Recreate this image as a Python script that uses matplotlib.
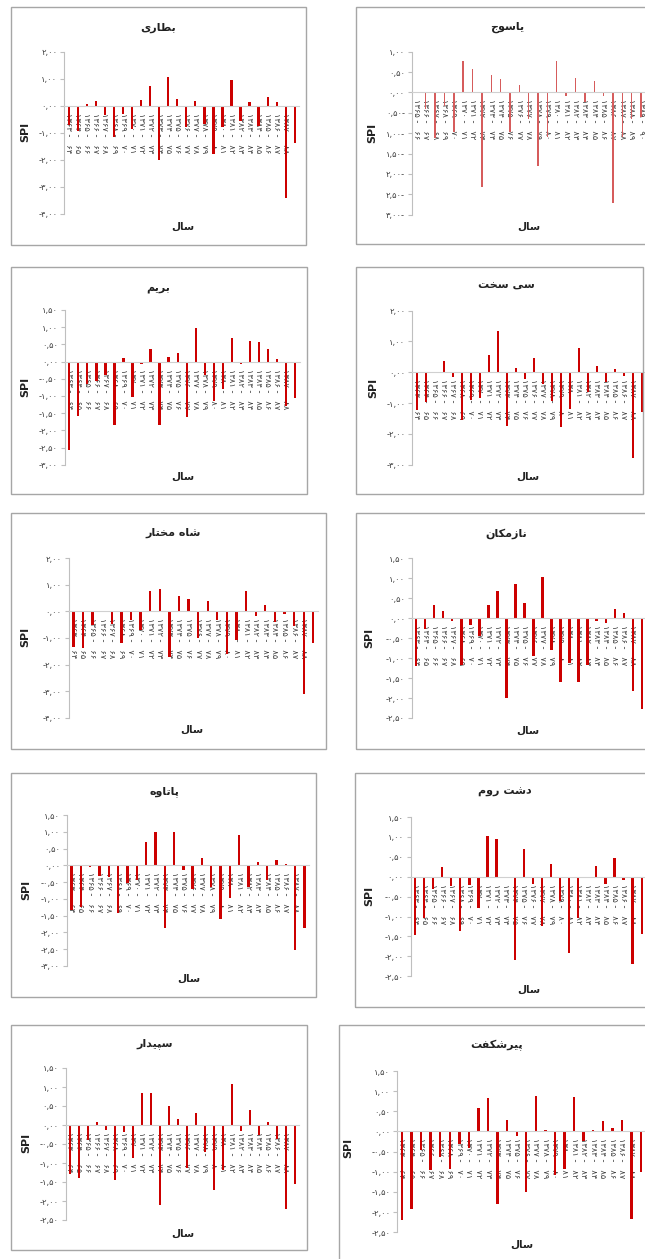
import numpy as np
import matplotlib
matplotlib.use("Agg")
import matplotlib.pyplot as plt
from matplotlib.patches import Rectangle
from matplotlib.ticker import FixedLocator, FuncFormatter

plt.rcParams['font.family'] = ['DejaVu Sans']

nan = np.nan

# ---------------- DATA ----------------
years_a = ["۱۳۶۳-۶۴", "۱۳۶۴-۶۵", "۱۳۶۵-۶۶", "۱۳۶۶-۶۷", "۱۳۶۷-۶۸", "۱۳۶۸-۶۹",
           "۱۳۶۹-۷۰", "۱۳۷۰-۷۱", "۱۳۷۱-۷۲", "۱۳۷۲-۷۳", "۱۳۷۳-۷۴", "۱۳۷۴-۷۵",
           "۱۳۷۵-۷۶", "۱۳۷۶-۷۷", "۱۳۷۷-۷۸", "۱۳۷۸-۷۹", "۱۳۷۹-۸۰", "۱۳۸۰-۸۱",
           "۱۳۸۱-۸۲", "۱۳۸۲-۸۳", "۱۳۸۳-۸۴", "۱۳۸۴-۸۵", "۱۳۸۵-۸۶", "۱۳۸۶-۸۷",
           "۱۳۸۷-۸۸", ""]
years_b = ["۱۳۶۵-۶۶", "۱۳۶۶-۶۷", "۱۳۶۷-۶۸", "۱۳۶۸-۶۹", "۱۳۶۹-۷۰", "۱۳۷۰-۷۱",
           "۱۳۷۱-۷۲", "۱۳۷۲-۷۳", "۱۳۷۳-۷۴", "۱۳۷۴-۷۵", "۱۳۷۵-۷۶", "۱۳۷۶-۷۷",
           "۱۳۷۷-۷۸", "۱۳۷۸-۷۹", "۱۳۷۹-۸۰", "۱۳۸۰-۸۱", "۱۳۸۱-۸۲", "۱۳۸۲-۸۳",
           "۱۳۸۳-۸۴", "۱۳۸۴-۸۵", "۱۳۸۵-۸۶", "۱۳۸۶-۸۷", "۱۳۸۷-۸۸", "۱۳۸۸-۸۹",
           "۱۳۸۹-۹۰"]

batari = [-0.70, -0.93, 0.07, 0.17, -0.33, -1.17, -0.30, -0.85, 0.21, 0.74, -2.00, 1.05, 0.25,
          -0.80, 0.19, -0.68, -1.79, -0.78, 0.95, -0.56, 0.14, -0.73, 0.33, 0.14, -3.40, -1.36]
yasuj = [nan, -0.41, -1.11, -0.34, -0.97, 0.77, 0.57, -2.33, 0.42, 0.34, -0.97, 0.19, -0.64,
         -1.81, -1.09, 0.77, -0.08, 0.35, -0.23, 0.27, -0.08, -2.71, -1.09, -0.66, -0.60]
barim = [-2.56, -1.59, -0.64, -0.57, -0.40, -1.85, 0.10, -1.04, -0.07, 0.37, -1.85, 0.12, 0.26,
         -1.61, 0.99, -0.38, -1.14, -0.80, 0.68, -0.07, 0.61, 0.58, 0.37, 0.08, -1.30, -1.07]
sisakht = [-1.22, -0.97, 0.01, 0.37, -0.15, -1.55, -0.89, -0.84, 0.56, 1.33, -1.73, 0.14, -0.23,
           0.45, -0.38, -0.93, -1.78, -1.20, 0.79, -0.63, 0.21, -0.32, 0.12, -0.12, -2.77, -1.28]
shahmokhtar = [-1.33, -1.39, -0.51, 0.01, -0.46, -1.20, -0.33, -0.70, 0.77, 0.84, -1.71, 0.58, 0.46,
               -0.99, 0.41, -0.33, -1.62, -1.08, 0.78, -0.16, 0.24, -0.38, -0.10, -0.55, -3.11, -1.17]
nazmakan = [-1.21, -0.28, 0.34, 0.19, -0.08, -1.17, -0.18, -0.44, 0.33, 0.69, -2.01, 0.86, 0.37,
            -0.94, 1.03, -0.80, -1.60, -1.13, -1.60, -1.18, -0.07, -0.13, 0.24, 0.14, -1.83, -2.27]
patave = [-1.33, -1.23, -0.05, -0.32, -0.36, -1.43, -0.52, -0.44, 0.69, 1.00, -1.86, 1.00, -0.14,
          -0.71, 0.23, -0.64, -1.60, -0.98, 0.90, -0.66, 0.09, -0.44, 0.16, 0.05, -2.53, -1.86]
dashtrum = [-1.46, -1.04, -0.31, 0.25, -0.23, -1.36, -0.20, -0.78, 1.02, 0.95, 0.0, -2.09, 0.69,
            -0.18, -1.24, 0.33, -0.60, -1.91, -1.03, -0.03, 0.28, -0.17, 0.46, -0.07, -2.18, -1.44]
sepidar = [-1.29, -1.40, -0.39, 0.08, -0.13, -1.45, -0.19, -0.88, 0.83, 0.85, -2.10, 0.49, 0.15,
           -1.12, 0.32, -0.72, -1.71, -1.18, 1.07, -0.16, 0.39, -0.26, 0.07, -0.38, -2.22, -1.54]
pirshekaft = [-2.20, -1.93, -0.45, -0.95, -0.64, -0.92, -0.30, -0.42, 0.58, 0.82, -1.80, 0.29, -0.12,
              -1.50, 0.88, 0.03, -1.08, -0.92, 0.85, -0.23, 0.04, 0.26, 0.09, 0.28, -2.18, -1.01]

titles = ["بطاری", "یاسوج", "بریم", "سی سخت", "شاه مختار", "نازمکان",
          "پاتاوه", "دشت روم", "سپیدار", "پیرشکفت"]
series = [batari, yasuj, barim, sisakht, shahmokhtar, nazmakan, patave, dashtrum, sepidar, pirshekaft]
labels = [years_a, years_b] + [years_a] * 8
ylims = [(-4, 2), (-3, 1), (-3, 1.5), (-3, 2), (-4, 2), (-2.5, 1.5),
         (-3, 1.5), (-2.5, 1.5), (-2.5, 1.5), (-2.5, 1.5)]
ysteps = [1, 0.5, 0.5, 1, 1, 0.5, 0.5, 0.5, 0.5, 0.5]
xlabel_txt = "سال"
ylabel_txt = "SPI"

# ---------------- LAYOUT (pixels) ----------------
W, H = 645, 1259
# box(x0,y0,x1,y1), axes(left,width,top,bottom), title(x,y), spi(x,y), sal(x,y)
layout = [
    ((11, 7, 306, 245), (64.3, 235, 51.7, 214), (158, 27.7), (25, 132), (183, 227)),
    ((356, 7, 650, 244), (411.7, 234, 51.7, 214.7), (506.7, 27.7), (372.7, 133), (529, 227)),
    ((11, 267, 307, 494), (64.8, 234.7, 310, 464.7), (158, 287.7), (25, 386.7), (182.7, 476.7)),
    ((356, 267, 643, 494), (412.2, 234, 310.7, 464.7), (506.7, 285.7), (373.3, 387.7), (528.3, 476.7)),
    ((11, 513, 326, 749), (68.5, 249.6, 558.3, 717.7), (173.3, 532.7), (25, 636.7), (191.7, 730)),
    ((356, 513, 650, 749), (411.8, 234.4, 558.3, 718), (506, 534), (369.3, 638.3), (528.3, 730.7)),
    ((11, 773, 316, 997), (67, 242, 815, 966), (164, 791.7), (26.7, 890), (189.3, 978.3)),
    ((355, 773, 650, 1007), (410.5, 235.7, 817, 976.3), (505, 791.7), (369.3, 896), (529.3, 989.3)),
    ((11, 1025, 307, 1250), (65.5, 233.7, 1068, 1220), (155, 1044), (26.7, 1143.3), (182.7, 1233.3)),
    ((339, 1025, 650, 1265), (397.2, 248.6, 1071, 1232.3), (496.7, 1045), (348.3, 1148.3), (521.7, 1245)),
]
bar_colors = ['#cc0000', '#d65c5c'] + ['#cc0000'] * 8
bar_widths = [0.25, 0.15] + [0.25] * 8
minus_suffix = [False, True] + [False] * 8

# ---------------- Persian shaping helper ----------------
FORMS = {
    'ا': ('\uFE8D', '\uFE8E', None, None),
    'ب': ('\uFE8F', '\uFE90', '\uFE91', '\uFE92'),
    'پ': ('\uFB56', '\uFB57', '\uFB58', '\uFB59'),
    'ت': ('\uFE95', '\uFE96', '\uFE97', '\uFE98'),
    'ج': ('\uFE9D', '\uFE9E', '\uFE9F', '\uFEA0'),
    'خ': ('\uFEA5', '\uFEA6', '\uFEA7', '\uFEA8'),
    'د': ('\uFEA9', '\uFEAA', None, None),
    'ر': ('\uFEAD', '\uFEAE', None, None),
    'ز': ('\uFEAF', '\uFEB0', None, None),
    'س': ('\uFEB1', '\uFEB2', '\uFEB3', '\uFEB4'),
    'ش': ('\uFEB5', '\uFEB6', '\uFEB7', '\uFEB8'),
    'ط': ('\uFEC1', '\uFEC2', '\uFEC3', '\uFEC4'),
    'ف': ('\uFED1', '\uFED2', '\uFED3', '\uFED4'),
    'ک': ('\uFB8E', '\uFB8F', '\uFB90', '\uFB91'),
    'ل': ('\uFEDD', '\uFEDE', '\uFEDF', '\uFEE0'),
    'م': ('\uFEE1', '\uFEE2', '\uFEE3', '\uFEE4'),
    'ن': ('\uFEE5', '\uFEE6', '\uFEE7', '\uFEE8'),
    'و': ('\uFEED', '\uFEEE', None, None),
    'ه': ('\uFEE9', '\uFEEA', '\uFEEB', '\uFEEC'),
    'ی': ('\uFBFC', '\uFBFD', '\uFBFE', '\uFBFF'),
}


def shape(text):
    out = []
    n = len(text)
    for i, ch in enumerate(text):
        if ch not in FORMS:
            out.append(ch)
            continue
        prev = text[i - 1] if i > 0 else ''
        nxt = text[i + 1] if i < n - 1 else ''
        jp = prev in FORMS and FORMS[prev][2] is not None
        jn = nxt in FORMS and FORMS[ch][2] is not None
        iso, fin, ini, med = FORMS[ch]
        if jp and jn:
            out.append(med)
        elif jp:
            out.append(fin)
        elif jn:
            out.append(ini)
        else:
            out.append(iso)
    return ''.join(out[::-1])


PDIG = str.maketrans('0123456789', '۰۱۲۳۴۵۶۷۸۹')


def fmt_factory(suffix):
    def f(v, pos):
        s = f"{abs(v):.2f}".replace('.', ',').translate(PDIG)
        if v < -1e-9:
            s = s + '-' if suffix else '-' + s
        return s
    return f


def cat_label(s):
    if not s:
        return ''
    a, b = s.split('-')
    return f"{a} -   {b}"


fig = plt.figure(figsize=(W / 100, H / 100), dpi=100)
fig.patch.set_facecolor('white')

axis_grey = '#bfbfbf'
text_grey = '#404040'

for k in range(10):
    box, axr, tpos, spos, xpos = layout[k]
    x0, y0, x1, y1 = box
    fig.add_artist(Rectangle((x0 / W, 1 - y1 / H), (x1 - x0) / W, (y1 - y0) / H,
                             transform=fig.transFigure, fill=False,
                             edgecolor='#a6a6a6', linewidth=1.0))
    left, width, top, bottom = axr
    ax = fig.add_axes([left / W, 1 - bottom / H, width / W, (bottom - top) / H])
    ax.set_facecolor('none')
    vals = series[k]
    n = len(vals)
    xs = np.arange(n)
    ax.bar(xs, vals, width=bar_widths[k], color=bar_colors[k], zorder=2)
    lo, hi = ylims[k]
    ax.set_ylim(lo, hi)
    ax.set_xlim(-0.5, n - 0.5)
    ax.yaxis.set_major_locator(FixedLocator(np.arange(lo, hi + 1e-9, ysteps[k])))
    ax.yaxis.set_major_formatter(FuncFormatter(fmt_factory(minus_suffix[k])))
    for sp in ('top', 'right'):
        ax.spines[sp].set_visible(False)
    ax.spines['left'].set_color(axis_grey)
    ax.spines['left'].set_linewidth(0.8)
    ax.spines['bottom'].set_position(('data', 0))
    ax.spines['bottom'].set_color('#d0d0d0')
    ax.spines['bottom'].set_linewidth(0.8)
    ax.tick_params(axis='y', direction='out', length=3, width=0.8, color=axis_grey,
                   labelsize=6, labelcolor=text_grey, pad=2)
    ax.set_xticks(xs)
    ax.set_xticklabels([cat_label(s) for s in labels[k]], rotation=-90,
                       fontsize=6, color=text_grey, va='top', ha='center')
    ax.tick_params(axis='x', length=0, pad=5)
    for t in ax.get_xticklabels():
        t.set_zorder(5)

    fig.text(tpos[0] / W, 1 - tpos[1] / H, shape(titles[k]), ha='center', va='center',
             fontsize=8, fontweight='bold', color='#222222')
    fig.text(spos[0] / W, 1 - spos[1] / H, ylabel_txt, ha='center', va='center',
             rotation=90, fontsize=8, fontweight='bold', color='#222222')
    fig.text(xpos[0] / W, 1 - xpos[1] / H, shape(xlabel_txt), ha='center', va='center',
             fontsize=7.5, fontweight='bold', color='#222222')

fig.savefig('out.png', dpi=100, facecolor='white')
